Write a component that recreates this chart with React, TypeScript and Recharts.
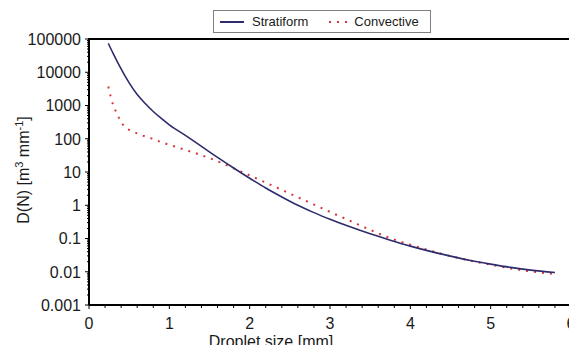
import React from 'react';
import { LineChart, Line, XAxis, YAxis, ReferenceLine } from 'recharts';

// droplet diameter [mm]
const sizes = [0.24, 0.3, 0.35, 0.4, 0.45, 0.5, 0.6, 0.7, 0.8, 0.9, 1.0, 1.2, 1.4, 1.6, 1.8, 2.0, 2.2, 2.4, 2.6, 2.8, 3.0, 3.25, 3.5, 3.75, 4.0, 4.25, 4.5, 4.75, 5.0, 5.25, 5.5, 5.8];
const stratiform = [74000, 37000, 21400, 12600, 7600, 4800, 2140, 1150, 660, 410, 263, 126, 59, 27.5, 13.2, 6.5, 3.3, 1.78, 1.0, 0.6, 0.38, 0.224, 0.138, 0.089, 0.059, 0.041, 0.0295, 0.0219, 0.017, 0.0135, 0.0112, 0.0095];
const convective = [3700, 1050, 560, 316, 224, 186, 145, 117, 98, 79, 66, 46, 32, 21, 12.9, 7.9, 4.8, 2.9, 1.74, 1.05, 0.63, 0.34, 0.182, 0.102, 0.065, 0.043, 0.0295, 0.0214, 0.0162, 0.0126, 0.0102, 0.0085];

const xLabels = [0, 1, 2, 3, 4, 5, 6];
const yLabels = [0.001, 0.01, 0.1, 1, 10, 100, 1000, 10000, 100000];

const data = sizes.map((x, i) => ({ x, stratiform: stratiform[i], convective: convective[i] }));

// minor ticks: every 0.2 mm on x, 2..9 per decade on y
const xTicks = Array.from({ length: 31 }, (_, i) => Math.round(i * 2) / 10);
const yTicks = yLabels.flatMap((t, i) =>
  i === yLabels.length - 1 ? [t] : [1, 2, 3, 4, 5, 6, 7, 8, 9].map((k) => +(t * k).toPrecision(3))
);

const FONT = '"Liberation Sans", Arial, Helvetica, sans-serif';
const NAVY = '#2d2c6c';
const RED = '#d8353a';
const axisStyle = { stroke: '#000', strokeWidth: 2 };

const isMajorY = (v: number) => yLabels.some((t) => Math.abs(t - v) / t < 1e-6);

const YTick = (props: any) => {
  const { x, y, payload } = props;
  const major = isMajorY(payload.value);
  return (
    <g>
      <line x1={x} x2={x - (major ? 4 : 2)} y1={y} y2={y} stroke="#000" strokeWidth={1} />
      {major && (
        <text x={x - 8} y={y} dy="0.36em" textAnchor="end" fontSize={16} fontFamily={FONT} fill="#1a1a1a">
          {String(payload.value)}
        </text>
      )}
    </g>
  );
};

const XTick = (props: any) => {
  const { x, y, payload } = props;
  const major = xLabels.includes(payload.value);
  return (
    <g>
      <line x1={x} x2={x} y1={y} y2={y + (major ? 4 : 3)} stroke="#000" strokeWidth={1} />
      {major && (
        <text x={x} y={y + 24} textAnchor="middle" fontSize={16} fontFamily={FONT} fill="#1a1a1a">
          {payload.value}
        </text>
      )}
    </g>
  );
};

const XLabel = (props: any) => {
  const { viewBox } = props;
  return (
    <text x={viewBox.x + viewBox.width / 2 - 59} y={viewBox.y + 42} textAnchor="middle" fontSize={16} fontFamily={FONT} fill="#1a1a1a">
      Droplet size [mm]
    </text>
  );
};

const YLabel = () => (
  <text x={29} y={170} transform="rotate(-90, 29, 170)" textAnchor="middle" fontSize={16} fontFamily={FONT} fill="#1a1a1a">
    D(N) [m<tspan dy={-6} fontSize={11}>3</tspan>
    <tspan dy={6}> mm</tspan>
    <tspan dy={-6} fontSize={11}>-1</tspan>
    <tspan dy={6}>]</tspan>
  </text>
);

const Legend = () => (
  <div
    style={{
      position: 'absolute',
      left: 213,
      top: 10,
      width: 216,
      height: 21,
      border: '1px solid #808080',
      background: '#fff',
      fontFamily: FONT,
      fontSize: 13,
      color: '#1a1a1a',
      display: 'flex',
      alignItems: 'center',
      zIndex: 6,
    }}
  >
    <svg width={34} height={10} style={{ marginLeft: 4 }}>
      <line x1={2} x2={26} y1={5} y2={5} stroke={NAVY} strokeWidth={2} />
    </svg>
    <span>Stratiform</span>
    <svg width={30} height={10} style={{ marginLeft: 18 }}>
      <line x1={3} x2={26} y1={5} y2={5} stroke={RED} strokeWidth={2} strokeDasharray="2 6" />
    </svg>
    <span style={{ marginLeft: -2 }}>Convective</span>
  </div>
);

// top and right edges of the plot box, as plain filled strips
const edge: React.CSSProperties = { position: 'absolute', background: '#000', zIndex: 5, pointerEvents: 'none' };
const Frame = () => (
  <>
    <div style={{ ...edge, left: 88, top: 38, width: 484, height: 2 }} />
    <div style={{ ...edge, left: 570, top: 38, width: 2, height: 268 }} />
  </>
);

export default function App() {
  return (
    <div style={{ position: 'relative', margin: -8, width: 577, height: 353, background: '#fff', overflow: 'hidden' }}>
      <LineChart width={577} height={353} data={data} margin={{ top: 39, right: 6, left: 29, bottom: 0 }}>
        <XAxis
          dataKey="x"
          type="number"
          domain={[0, 6]}
          ticks={xTicks}
          interval={0}
          allowDataOverflow
          axisLine={axisStyle}
          tickLine={false}
          tickSize={0}
          tickMargin={0}
          height={48}
          tick={<XTick />}
          label={<XLabel />}
        />
        <YAxis
          type="number"
          scale="log"
          domain={[0.001, 100000]}
          ticks={yTicks}
          interval={0}
          allowDataOverflow
          axisLine={axisStyle}
          tickLine={false}
          tickSize={0}
          tickMargin={0}
          width={60}
          tick={<YTick />}
          label={<YLabel />}
        />
        <ReferenceLine x={6} stroke="#000" strokeWidth={2} />
        <ReferenceLine y={100000} stroke="#000" strokeWidth={2} />
        <Line
          type="monotone"
          dataKey="convective"
          stroke={RED}
          strokeWidth={2}
          strokeDasharray="2 6"
          dot={false}
          isAnimationActive={false}
        />
        <Line
          type="monotone"
          dataKey="stratiform"
          stroke={NAVY}
          strokeWidth={1.6}
          dot={false}
          isAnimationActive={false}
        />
      </LineChart>
      <Frame />
      <Legend />
    </div>
  );
}
